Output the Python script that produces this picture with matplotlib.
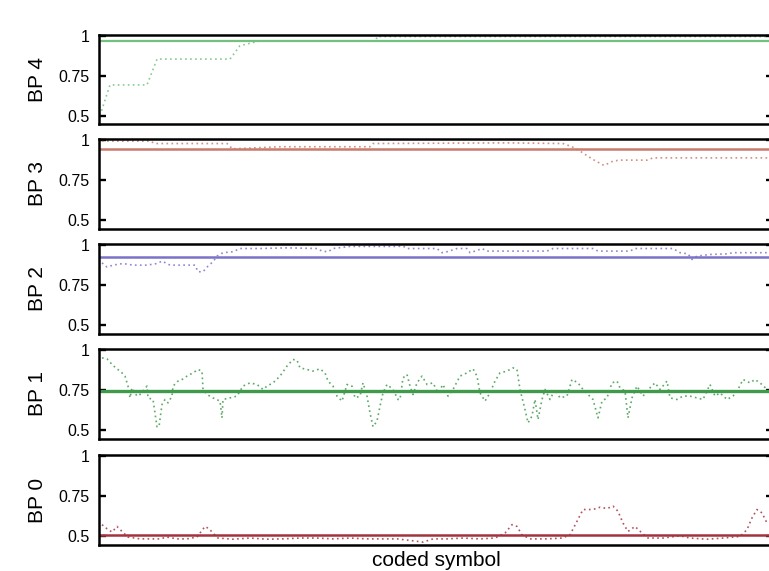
import matplotlib
matplotlib.use("Agg")
import matplotlib.pyplot as plt

plt.rcParams["font.family"] = ["Liberation Sans", "DejaVu Sans"]

# ---- data: per-bit probability traces (symbol index, value) and their means ----
bp4_x = [1, 11, 48, 58, 131, 141, 161, 277, 278, 670]
bp4_y = [0.50, 0.692, 0.692, 0.854, 0.854, 0.938, 0.968, 0.968, 0.995, 0.995]
bp4_mean = 0.970

bp3_x = [3, 51, 56, 128, 131, 133, 181, 271, 274, 408, 464, 473, 481, 494, 505,
         514, 521, 548, 554, 670]
bp3_y = [0.992, 0.992, 0.977, 0.977, 0.961, 0.944, 0.957, 0.957, 0.977, 0.981,
         0.977, 0.957, 0.930, 0.878, 0.841, 0.868, 0.874, 0.874, 0.888, 0.888]
bp3_mean = 0.944

bp2_x = [3, 8, 14, 24, 34, 48, 58, 63, 71, 88, 96, 99, 104, 109, 114, 118, 124,
         134, 141, 161, 188, 218, 223, 229, 234, 251, 268, 299, 304, 308, 338,
         343, 348, 358, 368, 371, 378, 383, 388, 448, 454, 494, 499, 531, 536,
         574, 581, 589, 593, 598, 611, 628, 634, 670]
bp2_y = [0.888, 0.862, 0.874, 0.884, 0.874, 0.874, 0.884, 0.899, 0.874, 0.874,
         0.874, 0.833, 0.833, 0.868, 0.895, 0.930, 0.951, 0.957, 0.977, 0.977,
         0.981, 0.977, 0.961, 0.957, 0.977, 0.990, 0.990, 0.990, 0.992, 0.977,
         0.977, 0.951, 0.957, 0.977, 0.977, 0.951, 0.965, 0.977, 0.961, 0.961,
         0.977, 0.977, 0.961, 0.961, 0.977, 0.977, 0.951, 0.944, 0.909, 0.930,
         0.940, 0.944, 0.951, 0.951]
bp2_mean = 0.924

bp1_x = [3, 8, 14, 23, 26, 29, 31, 33, 34, 38, 41, 48, 49, 54, 58, 60, 63, 66,
         69, 73, 74, 79, 83, 88, 94, 99, 103, 104, 108, 114, 121, 123, 124, 131,
         138, 144, 151, 158, 164, 168, 174, 181, 188, 194, 198, 201, 208, 214,
         221, 226, 229, 234, 238, 243, 248, 253, 256, 261, 264, 268, 271, 274,
         278, 281, 284, 288, 294, 299, 301, 304, 308, 311, 314, 318, 323, 328,
         334, 339, 344, 349, 354, 361, 368, 374, 378, 381, 386, 391, 396, 401,
         408, 414, 418, 421, 426, 429, 433, 436, 439, 443, 446, 451, 456, 461,
         468, 473, 479, 484, 489, 494, 499, 503, 508, 513, 518, 521, 526, 529,
         533, 538, 544, 551, 556, 561, 568, 571, 578, 584, 591, 598, 604, 611,
         616, 621, 628, 634, 639, 644, 651, 656, 663, 668, 670]
bp1_y = [0.950, 0.944, 0.903, 0.857, 0.837, 0.775, 0.702, 0.764, 0.754, 0.713,
         0.723, 0.775, 0.702, 0.692, 0.523, 0.523, 0.661, 0.692, 0.671, 0.713,
         0.775, 0.806, 0.816, 0.837, 0.857, 0.878, 0.868, 0.754, 0.723, 0.702,
         0.682, 0.578, 0.692, 0.702, 0.713, 0.775, 0.795, 0.785, 0.754, 0.775,
         0.795, 0.837, 0.899, 0.940, 0.936, 0.888, 0.878, 0.868, 0.882, 0.857,
         0.806, 0.775, 0.713, 0.682, 0.785, 0.775, 0.702, 0.713, 0.795, 0.713,
         0.609, 0.523, 0.558, 0.651, 0.733, 0.785, 0.754, 0.692, 0.692, 0.826,
         0.847, 0.775, 0.723, 0.795, 0.837, 0.785, 0.795, 0.733, 0.785, 0.713,
         0.754, 0.837, 0.857, 0.882, 0.837, 0.733, 0.682, 0.733, 0.806, 0.857,
         0.868, 0.888, 0.878, 0.754, 0.630, 0.547, 0.589, 0.692, 0.568, 0.692,
         0.754, 0.692, 0.754, 0.702, 0.713, 0.816, 0.795, 0.754, 0.723, 0.692,
         0.578, 0.682, 0.702, 0.795, 0.806, 0.764, 0.744, 0.578, 0.702, 0.775,
         0.713, 0.764, 0.795, 0.754, 0.806, 0.702, 0.692, 0.713, 0.713, 0.702,
         0.692, 0.785, 0.713, 0.733, 0.692, 0.713, 0.754, 0.816, 0.795, 0.816,
         0.785, 0.754, 0.733]
bp1_mean = 0.746

bp0_x = [3, 8, 13, 18, 23, 29, 41, 51, 61, 68, 78, 88, 98, 101, 106, 110, 114,
         119, 134, 151, 168, 184, 201, 218, 234, 251, 268, 284, 298, 314, 324,
         334, 348, 364, 381, 396, 406, 413, 418, 423, 431, 448, 463, 471, 478,
         484, 494, 501, 508, 514, 519, 524, 529, 536, 543, 549, 564, 581, 591,
         608, 624, 641, 648, 653, 658, 663, 668]
bp0_y = [0.573, 0.548, 0.527, 0.562, 0.531, 0.496, 0.485, 0.485, 0.485, 0.496,
         0.485, 0.485, 0.496, 0.521, 0.562, 0.548, 0.521, 0.490, 0.483, 0.490,
         0.483, 0.485, 0.490, 0.490, 0.485, 0.490, 0.485, 0.485, 0.485, 0.473,
         0.465, 0.485, 0.485, 0.490, 0.485, 0.490, 0.521, 0.573, 0.562, 0.510,
         0.485, 0.485, 0.490, 0.510, 0.594, 0.667, 0.667, 0.681, 0.673, 0.688,
         0.656, 0.583, 0.531, 0.562, 0.521, 0.490, 0.490, 0.504, 0.490, 0.483,
         0.490, 0.500, 0.542, 0.615, 0.667, 0.646, 0.583]
bp0_mean = 0.512

panel_names = ["BP 4", "BP 3", "BP 2", "BP 1", "BP 0"]
traces = [(bp4_x, bp4_y, bp4_mean), (bp3_x, bp3_y, bp3_mean),
          (bp2_x, bp2_y, bp2_mean), (bp1_x, bp1_y, bp1_mean),
          (bp0_x, bp0_y, bp0_mean)]
colors = ["#72c17e", "#c97b6c", "#7b73c9", "#3f9a4c", "#a3343f"]
mean_widths = [1.6, 1.8, 1.8, 2.4, 1.8]
y_ticks = [0.5, 0.75, 1.0]
y_tick_labels = ["0.5", "0.75", "1"]

W, H = 769, 571
fig = plt.figure(figsize=(W / 100, H / 100), dpi=100)

# panel extents in pixels (top, bottom)
panel_px = [(35, 124), (139, 229), (244, 334), (349, 439), (455, 545)]
left_px, right_px = 99, 773

for (top, bot), name, (xs, ys, mean), col, mw in zip(panel_px, panel_names, traces,
                                                    colors, mean_widths):
    ax = fig.add_axes([left_px / W, 1 - bot / H, (right_px - left_px) / W, (bot - top) / H])
    ax.plot(xs, ys, linestyle=(0, (1, 2)), color=col, linewidth=1.2, alpha=0.85)
    ax.axhline(mean, color=col, linewidth=mw)
    ax.set_xlim(0, right_px - left_px)
    ax.set_ylim(0.447, 1.005)
    ax.set_xticks([])
    ax.set_yticks(y_ticks)
    ax.set_yticklabels(y_tick_labels)
    ax.tick_params(axis="y", direction="in", length=5, width=1.7, labelsize=11.5,
                   pad=7, right=True, left=True, colors="black")
    for sp in ax.spines.values():
        sp.set_linewidth(1.8)
        sp.set_color("black")
    ax.set_ylabel(name, fontsize=15)
    ax.yaxis.set_label_coords((47 - left_px) / (right_px - left_px), 0.5)

fig.text(436 / W, 1 - 561 / H, "coded symbol", ha="center", va="center", fontsize=15)

fig.savefig("out.png", dpi=100)
